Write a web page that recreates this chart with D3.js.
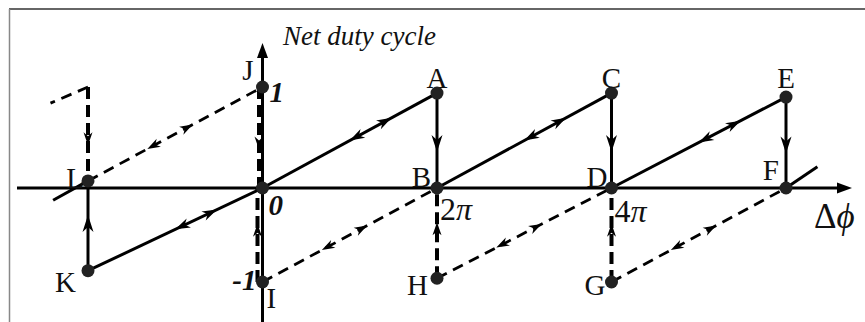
<!DOCTYPE html>
<html>
<head>
<meta charset="utf-8">
<script src="https://cdn.jsdelivr.net/npm/d3@7"></script>
<style>
  html, body { margin: 0; padding: 0; background: #fff; }
  svg { display: block; }
  text { font-family: "Liberation Serif", "DejaVu Serif", serif; fill: #111; }
</style>
</head>
<body>
<svg id="chart" width="865" height="322"></svg>
<script>
// Hysteresis of the net duty cycle versus phase difference (x in units of π).
const pointNames = ["K", "L", "J", "O", "I", "A", "B", "H", "C", "D", "G", "E", "F", "P", "Q", "R", "S"];
const pointX     = [-2, -2, 0, 0, 0, 2, 2, 2, 4, 4, 4, 6, 6, -2, -2.43, -2.4, 6.36];
const pointY     = [-0.88, 0.07, 1, 0, -1, 0.94, 0, -0.96, 0.94, 0, -1, 0.90, 0, 1, 0.84, -0.13, 0.21];
const dotNames   = ["K", "L", "J", "O", "I", "A", "B", "H", "C", "D", "G", "E", "F"];
const labelNames = ["K", "L", "J", "I", "A", "B", "H", "C", "D", "G", "E", "F"];

// Sloped branches travelled both ways
const solidRamps  = [["K", "O"], ["O", "A"], ["B", "C"], ["D", "E"]];
const dashedRamps = [["L", "J"], ["I", "B"], ["H", "D"], ["G", "F"]];
// Vertical jumps, one direction
const solidJumps  = [["K", "L"], ["A", "B"], ["C", "D"], ["E", "F"]];
const dashedJumps = [["P", "L"], ["H", "B"], ["G", "D"], ["I", "O"], ["J", "O"]];
// Branch ends running off the drawn range
const solidTails  = [["L", "R"], ["F", "S"]];
const dashedTails = [["P", "Q"]];

const yTickValues = [1, 0, -1];
const yTickLabels = ["1", "0", "-1"];
const xTickValues = [2, 4];
const xTickLabels = ["2", "4"];
const yAxisTitle = "Net duty cycle";

const svg = d3.select("#chart");
const xScale = d3.scaleLinear().domain([-2, 6]).range([88, 786]);
const yScale = d3.scaleLinear().domain([-1, 0, 1]).range([282, 188, 87]);

const pt = {};
pointNames.forEach((n, i) => { pt[n] = { x: xScale(pointX[i]), y: yScale(pointY[i]) }; });

// frame
svg.append("line").attr("x1", 9).attr("x2", 865).attr("y1", 9).attr("y2", 9)
  .attr("stroke", "#333").attr("stroke-width", 1.6);
svg.append("line").attr("x1", 9.5).attr("x2", 9.5).attr("y1", 9).attr("y2", 322)
  .attr("stroke", "#888").attr("stroke-width", 1.5);

const x0 = xScale(0), y0 = yScale(0);

// axes
svg.append("line").attr("x1", 17).attr("x2", 840).attr("y1", y0).attr("y2", y0)
  .attr("stroke", "#000").attr("stroke-width", 3);
svg.append("path").attr("d", `M852,${y0} L837,${y0 - 5.5} L837,${y0 + 5.5} Z`).attr("fill", "#000");
svg.append("line").attr("x1", x0).attr("x2", x0).attr("y1", 322).attr("y2", 55)
  .attr("stroke", "#000").attr("stroke-width", 3);
svg.append("path").attr("d", `M${x0},43 L${x0 - 5.5},58 L${x0 + 5.5},58 Z`).attr("fill", "#000");

function head(g, x, y, ang, len, hw, notch) {
  g.append("path")
    .attr("d", `M0,0 L${-len},${-hw} L${-len * notch},0 L${-len},${hw} Z`)
    .attr("transform", `translate(${x},${y}) rotate(${ang * 180 / Math.PI})`)
    .attr("fill", "#000");
}

const gLines = svg.append("g");

function seg(a, b, dashed) {
  gLines.append("line")
    .attr("x1", pt[a].x).attr("y1", pt[a].y)
    .attr("x2", pt[b].x).attr("y2", pt[b].y)
    .attr("stroke", "#000")
    .attr("stroke-width", dashed ? 2.8 : 3)
    .attr("stroke-dasharray", dashed ? "11,7" : null);
}

// ramps with two opposing arrowheads
function ramp(pair, dashed) {
  const [a, b] = pair;
  seg(a, b, dashed);
  const A = pt[a], B = pt[b];
  const ang = Math.atan2(B.y - A.y, B.x - A.x);
  const fFwd = dashed ? 0.6 : 0.74;
  const fBack = dashed ? 0.34 : 0.5;
  const len = dashed ? 13 : 15, hw = dashed ? 4.5 : 5;
  head(gLines, A.x + (B.x - A.x) * fFwd, A.y + (B.y - A.y) * fFwd, ang, len, hw, 0.7);
  head(gLines, A.x + (B.x - A.x) * fBack, A.y + (B.y - A.y) * fBack, ang + Math.PI, len, hw, 0.7);
}
solidRamps.forEach(p => ramp(p, false));
dashedRamps.forEach(p => ramp(p, true));
solidTails.forEach(p => seg(p[0], p[1], false));
dashedTails.forEach(p => seg(p[0], p[1], true));

// vertical jumps
function jump(pair, dashed) {
  const [a, b] = pair;
  // jumps lying on the vertical axis are drawn just beside it
  const onAxis = pt[a].x === x0;
  const dx = onAxis ? (a === "I" ? -5 : -3.5) : 0;
  const xl = pt[b].x + dx;
  gLines.append("line")
    .attr("x1", xl).attr("y1", pt[a].y)
    .attr("x2", xl).attr("y2", pt[b].y)
    .attr("stroke", "#000")
    .attr("stroke-width", dashed ? 4 : 3)
    .attr("stroke-dasharray", dashed ? "12,6" : null);
  const f = 0.62;
  const ang = Math.atan2(pt[b].y - pt[a].y, 0);
  head(gLines, xl, pt[a].y + (pt[b].y - pt[a].y) * f, ang,
       dashed ? 13 : 17, dashed ? 4.5 : 5.5, 0.7);
}
solidJumps.forEach(p => jump(p, false));
dashedJumps.forEach(p => jump(p, true));

// state dots
svg.append("g").selectAll("circle").data(dotNames).join("circle")
  .attr("cx", d => pt[d].x).attr("cy", d => pt[d].y).attr("r", 6.5)
  .attr("fill", "#222");

// state labels
const labelOffset = {
  K: [-12, 21, "end"], L: [-4, 7, "end"], J: [-9, -7, "end"], I: [4, 26, "start"],
  A: [0, -5, "middle"], B: [-6, -1, "end"], H: [-9, 17, "end"], C: [0, -5, "middle"],
  D: [-4, -1, "end"], G: [-6, 13, "end"], E: [0, -9, "middle"], F: [-7, -8, "end"]
};
svg.append("g").selectAll("text").data(labelNames).join("text")
  .attr("x", d => pt[d].x + labelOffset[d][0])
  .attr("y", d => pt[d].y + labelOffset[d][1])
  .attr("text-anchor", d => labelOffset[d][2])
  .attr("font-size", 29)
  .text(d => d);

// y tick labels
const yTickPos = { "1": [7, 15, "start"], "0": [6, 27, "start"], "-1": [-6, 8, "end"] };
svg.append("g").selectAll("text").data(yTickValues).join("text")
  .attr("x", (d, i) => x0 + yTickPos[yTickLabels[i]][0])
  .attr("y", (d, i) => yScale(d) + yTickPos[yTickLabels[i]][1])
  .attr("text-anchor", (d, i) => yTickPos[yTickLabels[i]][2])
  .attr("font-size", 29).attr("font-weight", "bold").attr("font-style", "italic")
  .text((d, i) => yTickLabels[i]);

// x tick labels (multiples of π)
const xt = svg.append("g").selectAll("text").data(xTickValues).join("text")
  .attr("x", d => xScale(d) + 3)
  .attr("y", (d, i) => y0 + 32 + i * 2)
  .attr("font-size", 32);
xt.append("tspan").text((d, i) => xTickLabels[i]);
xt.append("tspan").attr("font-style", "italic").text("π");

// axis titles
svg.append("text").attr("x", 283).attr("y", 45).attr("font-size", 27)
  .attr("font-style", "italic").text(yAxisTitle);
const dphi = svg.append("text").attr("x", 814).attr("y", 228).attr("font-size", 35);
dphi.append("tspan").text("Δ");
dphi.append("tspan").attr("font-style", "italic").text("ϕ");
</script>
</body>
</html>
